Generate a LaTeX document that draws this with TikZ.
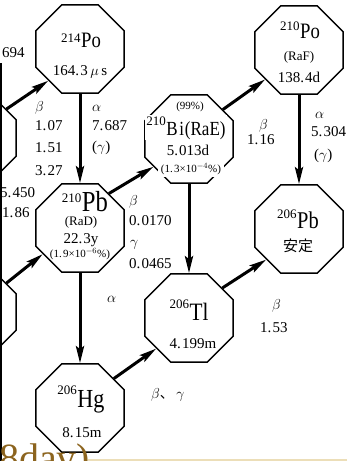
\documentclass[tikz,border=0pt]{standalone}
\usepackage{fontspec}
\setmainfont{Liberation Serif}
\newfontfamily\cjk{Noto Sans CJK JP}
\newfontfamily\symfont[FakeStretch=0.85]{Liberation Serif}
\usetikzlibrary{shapes.geometric,arrows.meta}
\newcommand\fs[1]{\fontsize{#1}{#1}\selectfont}
\newcommand\iso[3]{{\fs{13}\raisebox{#3}{#1}}\kern0.5pt{\symfont #2}}
\newcommand\pd{.\kern1.2pt}
\definecolor{brownc}{RGB}{140,100,30}
\definecolor{tanc}{RGB}{236,222,184}
\begin{document}
\begin{tikzpicture}[x=1pt,y=-1pt,
 oct/.style={regular polygon,regular polygon sides=8,minimum size=95.5pt,inner sep=0pt,draw,line width=1.4pt},
 arr/.style={line width=3pt,-{Stealth[length=17pt,width=8pt,inset=3pt]}},
 lbl/.style={inner sep=0pt,anchor=base west,font=\fs{15}},
 ctr/.style={inner sep=0pt,anchor=base,font=\fs{15}},
 small/.style={inner sep=0pt,anchor=base,font=\fs{11}},
 cover/.style={fill=white,inner xsep=1pt,inner ysep=1pt}
]
\useasboundingbox (0,0) rectangle (347,461);
\clip (0,0) rectangle (347,461);

% octagons
\node[oct] (L1) at (-28,138) {};
\node[oct] (L2) at (-28,312) {};
\node[oct] (Po214) at (80,49) {};
\node[oct] (Po210) at (299,50) {};
\node[oct] (Bi) at (189,139) {};
\node[oct] (Pb210) at (80,228) {};
\node[oct] (Pb206) at (299,229) {};
\node[oct] (Tl) at (189,318) {};
\node[oct] (Hg) at (80,408) {};

% texts inside octagons
\node[ctr,font=\fs{22}] (po214a) at (81,47) {\iso{214}{Po}{5pt}};
\node[ctr] (po214b) at (80,75) {164\pd 3\,$\mu$\,s};

\node[ctr,font=\fs{22}] (po210a) at (300,38) {\iso{210}{Po}{8pt}};
\node[ctr,font=\fs{13}] (po210b) at (299,60) {(RaF)};
\node[ctr] (po210c) at (299,82) {138\pd 4d};

\node[small,cover] (bia) at (190,109) {(99\%)};
\node[ctr,font=\fs{20},cover] (bib) at (186,135) {\iso{210}{B\kern1.5pt i\kern1pt(RaE)}{10pt}};
\node[ctr] (bic) at (188,155) {5\pd 013d};
\node[small,cover,inner xsep=3pt,inner ysep=3pt] (bid) at (191,172) {(1\pd 3×10$^{-4}$\%)};

\node[ctr,font=\fs{29}] (pba) at (85,211) {\iso{210}{Pb}{9pt}};
\node[ctr,font=\fs{13}] (pbb) at (81,225) {(RaD)};
\node[ctr] (pbc) at (81,243) {22\pd 3y};
\node[small] (pbd) at (80,257) {(1\pd 9×10$^{-6}$\%)};

\node[ctr,font=\fs{24}] (pb6a) at (298,228) {\iso{206}{Pb}{10pt}};
\node[ctr,font=\cjk\fs{15}] (pb6b) at (298,251) {安定};

\node[ctr,font=\fs{25}] (tla) at (189,320) {\iso{206}{Tl}{12pt}};
\node[ctr] (tlb) at (193,348) {4\pd 199m};

\node[ctr,font=\fs{26}] (hga) at (81,407) {\iso{206}{Hg}{13pt}};
\node[ctr] (hgb) at (82,437) {8\pd 15m};

% decay labels
\node[lbl] (c0) at (2,57) {694};
\node[lbl] (ca1) at (35,111) {$\beta$};
\node[lbl] (ca2) at (35,130) {1\pd 07};
\node[lbl] (ca3) at (35,152) {1\pd 51};
\node[lbl] (ca4) at (35,175) {3\pd 27};
\node[lbl] (cb1) at (92,111) {$\alpha$};
\node[lbl] (cb2) at (92,130) {7\pd 687};
\node[lbl] (cb3) at (92,151) {($\gamma$)};
\node[lbl] (cl1) at (0,197) {5\pd 450};
\node[lbl] (cl2) at (2,217) {1\pd 86};
\node[lbl] (cc1) at (259,129) {$\beta$};
\node[lbl] (cc2) at (247,144) {1\pd 16};
\node[lbl] (cd1) at (315,118) {$\alpha$};
\node[lbl] (cd2) at (311,136) {5\pd 304};
\node[lbl] (cd3) at (314,159) {($\gamma$)};
\node[lbl] (ce1) at (129,205) {$\beta$};
\node[lbl] (ce2) at (129,225) {0\pd 0170};
\node[lbl] (ce3) at (130,246) {$\gamma$};
\node[lbl] (ce4) at (129,268) {0\pd 0465};
\node[lbl] (cf1) at (107,302) {$\alpha$};
\node[lbl] (cg1) at (272,309) {$\beta$};
\node[lbl] (cg2) at (260,332) {1\pd 53};
\node[lbl,font=\fs{14}] (ch1) at (151,398) {$\beta${\cjk 、}\,$\gamma$};

% connectors
\draw[arr] (Po214) -- (Pb210);
\draw[arr] (Pb210) -- (Hg);
\draw[arr] (Bi) -- (Tl);
\draw[arr] (Po210) -- (Pb206);
\draw[arr] (Pb210.50) -- (Bi.218);
\draw[arr] (Bi.41) -- (Po210.221);
\draw[arr] (Hg.41) -- (Tl.223);
\draw[arr] (Tl.42) -- (Pb206.223);
\draw[arr] (L1.40) -- (Po214.225);
\draw[arr] (L2.40) -- (Pb210.215);
\coordinate (e1) at (1.2,63);
\coordinate (e2) at (1.2,461);
\draw[line width=2.4pt] (e1) -- (e2);

% slide remnants at the bottom
\node[anchor=base west,inner sep=0pt,font=\fs{40},text=brownc] (bt) at (-1,471.5) {8day)};
\fill[tanc] (88,458.5) rectangle (347,461);
\end{tikzpicture}
\end{document}
